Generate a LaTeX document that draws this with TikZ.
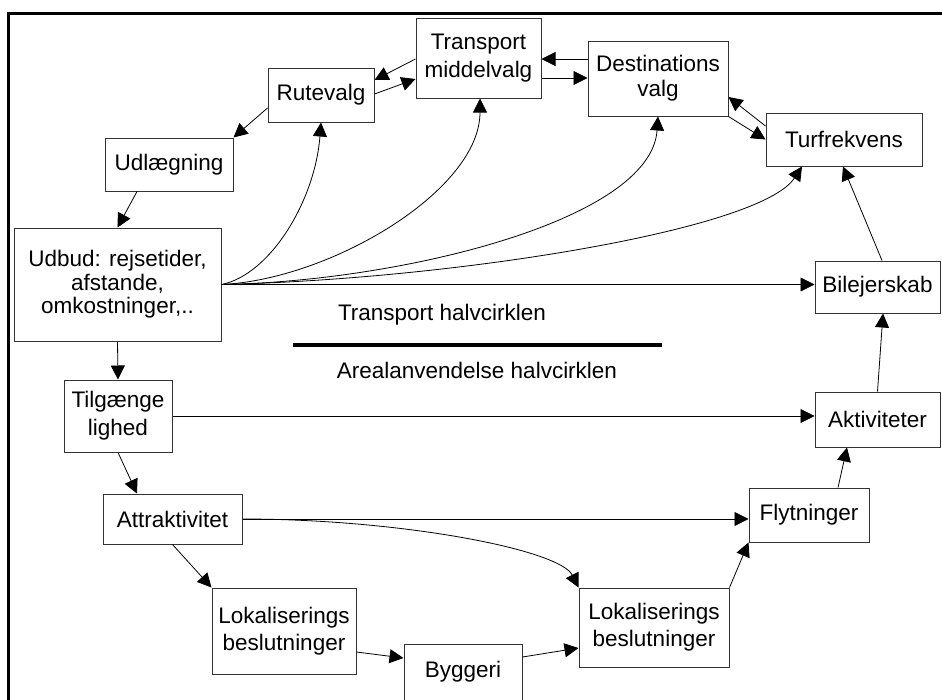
\documentclass[tikz,border=0pt]{standalone}
\usepackage{fontspec}
\setmainfont{Liberation Sans}
\usetikzlibrary{arrows.meta}
\begin{document}
\begin{tikzpicture}[x=1pt,y=-1pt,
  box/.style={draw=black!80,line width=1pt,fill=white,inner sep=0pt,align=center,font=\fontsize{22.5}{27}\selectfont},
  conn/.style={line width=0.8pt,-{Triangle[length=14pt,width=14pt]}},
  lbl/.style={font=\fontsize{22.5}{27}\selectfont,anchor=base}]
\useasboundingbox (0,0) rectangle (942,699);
\draw[line width=3pt] (8.7,13) rectangle (960,720);
% nodes
\node[box,minimum width=125pt,minimum height=80pt,font=\fontsize{22.5}{28}\selectfont] (trans) at (478.5,58) {Transport\\middelvalg};
\node[box,minimum width=106pt,minimum height=54pt] (rute) at (321,95) {Rutevalg};
\node[box,minimum width=128pt,minimum height=53pt] (udl) at (169,164.5) {Udlægning};
\node[box,minimum width=140pt,minimum height=75pt,font=\fontsize{22.5}{25}\selectfont] (dest) at (658,78.5) {Destinations\\valg};
\node[box,minimum width=156pt,minimum height=53pt] (turf) at (844,139.5) {Turfrekvens};
\node[box,minimum width=207pt,minimum height=113pt,font=\fontsize{22.5}{23.5}\selectfont] (udbud) at (117.5,284.5) {Udbud: rejsetider,\\afstande,\\omkostninger,..};
\node[box,minimum width=108pt,minimum height=72pt,font=\fontsize{22.5}{28}\selectfont] (tilg) at (118,416) {Tilgænge\\lighed};
\node[box,minimum width=125pt,minimum height=52pt] (bil) at (877.5,287) {Bilejerskab};
\node[box,minimum width=125pt,minimum height=55pt] (akt) at (877.5,419.5) {Aktiviteter};
\node[box,minimum width=139pt,minimum height=50pt] (attr) at (172.5,519) {Attraktivitet};
\node[box,minimum width=144pt,minimum height=86pt] (lokA) at (284,631) {Lokaliserings\\beslutninger};
\node[box,minimum width=118pt,minimum height=56pt] (bygg) at (463,672) {Byggeri};
\node[box,minimum width=150pt,minimum height=79pt] (lokB) at (654,627.5) {Lokaliserings\\beslutninger};
\node[box,minimum width=120pt,minimum height=54pt] (flyt) at (809,515) {Flytninger};
% labels and divider
\node[lbl] (tlab) at (442,320) {Transport halvcirklen};
\node[lbl] (alab) at (477,378) {Arealanvendelse halvcirklen};
\draw[line width=4pt] (293,345) -- (662,345);
% connectors
\draw[conn] ([yshift=-1pt]trans.west) -- ([yshift=15pt]rute.east);
\draw[conn] ([yshift=1pt]rute.east) -- ([yshift=-21pt]trans.west);
\draw[conn] ([yshift=-13pt]rute.west) -- (udl.north east);
\draw[conn] ([xshift=-32pt]udl.south) -- (udbud.north);
\draw[conn] ([yshift=19.5pt]dest.west) -- ([yshift=-1pt]trans.east);
\draw[conn] ([yshift=-20pt]trans.east) -- ([yshift=0.5pt]dest.west);
\draw[conn] ([yshift=13.5pt]turf.west) -- ([yshift=-18.5pt]dest.east);
\draw[conn] (dest.south east) -- (turf.west);
\draw[conn] ([xshift=4.5pt]bil.north) -- ([xshift=-1pt]turf.south);
\draw[conn] (akt.north) -- ([xshift=5.5pt]bil.south);
\draw[conn] ([xshift=29pt]flyt.north) -- ([xshift=-30.5pt]akt.south);
\draw[conn] (lokB.north east) -- (flyt.south west);
\draw[conn] ([yshift=15pt]bygg.east) -- ([yshift=-20.5pt]lokB.west);
\draw[conn] ([yshift=-21pt]lokA.east) -- ([yshift=14pt]bygg.west);
\draw[conn] (attr.south) -- (lokA.north west);
\draw[conn] (tilg.south) -- ([xshift=-35.5pt]attr.north);
\draw[conn] (udbud.south) -- (tilg.north);
\draw[conn] (tilg.east) -- (tilg.east -| akt.west);
\draw[conn] (udbud.east) -- (udbud.east -| bil.west);
\draw[conn] (attr.east) -- (attr.east -| flyt.west);
\draw[conn] (attr.east) .. controls +(158,0) and +(-19,-38) .. (lokB.north west);
\draw[conn] (udbud.east) .. controls +(49,-10) and +(-6,78) .. (rute.south);
\draw[conn] (udbud.east) .. controls +(109,-5) and +(0,92) .. ([xshift=1.5pt]trans.south);
\draw[conn] (udbud.east) .. controls +(179,-3) and +(-7,104) .. (dest.south);
\draw[conn] (udbud.east) .. controls +(229,-5) and +(-42,64) .. ([xshift=-42pt]turf.south);
\end{tikzpicture}
\end{document}
